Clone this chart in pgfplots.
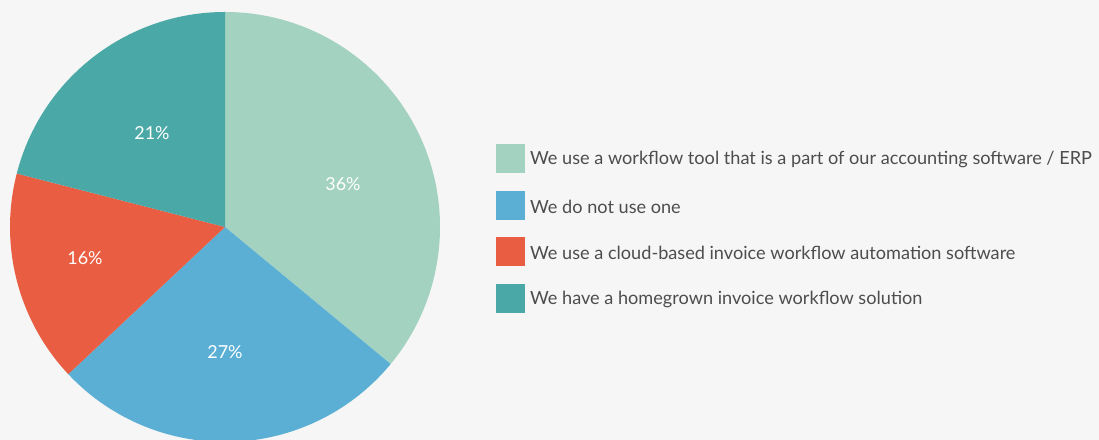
\documentclass[border=0pt]{standalone}
\usepackage{pgfplots}
\pgfplotsset{compat=1.18}
\usepackage{fontspec}
\setmainfont{Lato}
\definecolor{bgc}{HTML}{F5F6F5}
\definecolor{cA}{HTML}{A3D2C1}
\definecolor{cB}{HTML}{5BAFD5}
\definecolor{cC}{HTML}{E95E42}
\definecolor{cD}{HTML}{4AA8A6}
\definecolor{txt}{HTML}{4D4D4D}
% shares (percent)
\def\vA{36}\def\vB{27}\def\vC{16}\def\vD{21}
\begin{document}
\begin{tikzpicture}
\pgfmathsetmacro\aA{90}
\pgfmathsetmacro\aB{\aA-3.6*\vA}
\pgfmathsetmacro\aC{\aB-3.6*\vB}
\pgfmathsetmacro\aD{\aC-3.6*\vC}
\pgfmathsetmacro\aE{\aD-3.6*\vD}
\begin{axis}[
  width=1099bp, height=440bp, scale only axis,
  xmin=0, xmax=1099, ymin=0, ymax=440,
  axis lines=none, ticks=none, clip=false,
]
\fill[bgc] (axis cs:0,0) rectangle (axis cs:1099,440);
\begin{scope}
\clip (axis cs:0,0) rectangle (axis cs:1099,440);
\fill[cA] (axis cs:225,213) -- ++(\aA:215bp) arc[start angle=\aA, end angle=\aB, radius=215bp] -- cycle;
\fill[cB] (axis cs:225,213) -- ++(\aB:215bp) arc[start angle=\aB, end angle=\aC, radius=215bp] -- cycle;
\fill[cC] (axis cs:225,213) -- ++(\aC:215bp) arc[start angle=\aC, end angle=\aD, radius=215bp] -- cycle;
\fill[cD] (axis cs:225,213) -- ++(\aD:215bp) arc[start angle=\aD, end angle=\aE, radius=215bp] -- cycle;
\end{scope}
\begin{scope}[every node/.style={text=white, font=\fontsize{18}{20}\selectfont}]
\node at (axis cs:343,256) {36\%};
\node at (axis cs:225,88) {27\%};
\node at (axis cs:85,182) {16\%};
\node at (axis cs:152,307) {21\%};
\end{scope}
\fill[cA] (axis cs:496,267.3) rectangle (axis cs:525,296);
\fill[cB] (axis cs:496,220) rectangle (axis cs:525,249);
\fill[cC] (axis cs:496,174.3) rectangle (axis cs:525,203);
\fill[cD] (axis cs:496,127.3) rectangle (axis cs:525,156);
\begin{scope}[every node/.style={text=txt, anchor=base west, inner sep=0pt, font=\fontsize{18.2}{22}\selectfont}]
\node at (axis cs:530,275) {We use a workflow tool that is a part of our accounting software / ERP};
\node at (axis cs:530,226.7) {We do not use one};
\node at (axis cs:530,180.7) {We use a cloud-based invoice workflow automation software};
\node at (axis cs:530,135) {We have a homegrown invoice workflow solution};
\end{scope}
\end{axis}
\end{tikzpicture}
\end{document}
